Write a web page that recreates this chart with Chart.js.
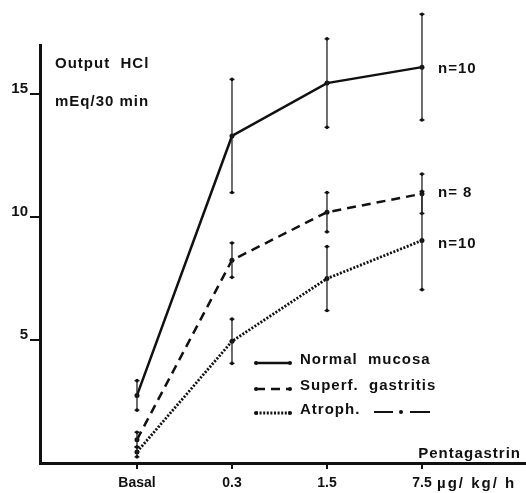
<!DOCTYPE html>
<html>
<head>
<meta charset="utf-8">
<script src="https://cdn.jsdelivr.net/npm/chart.js@4"></script>
<style>
  html, body { margin: 0; padding: 0; background: #fff; }
  canvas { display: block; }
</style>
</head>
<body>
<canvas id="HclChart" width="526" height="493"></canvas>
<script>
(function () {
  "use strict";

  // doses (x categories)
  const doseLabels = ['Basal', '0.3', '1.5', '7.5'];
  const yTickValues = [5, 10, 15];

  // mean output +- error, per group
  const normalMean = [2.75, 13.3, 15.45, 16.1];
  const normalErr  = [0.6, 2.3, 1.8, 2.15];
  const superfMean = [0.95, 8.25, 10.2, 10.95];
  const superfErr  = [0.3, 0.7, 0.8, 0.8];
  const atrophMean = [0.45, 4.95, 7.5, 9.05];
  const atrophErr  = [0.2, 0.9, 1.3, 2.0];

  const groupNames = ['Normal  mucosa', 'Superf.  gastritis', 'Atroph.'];
  const nLabels = ['n=10', 'n= 8', 'n=10'];

  const ink = '#111';
  const fontFam = '"Liberation Sans", Arial, sans-serif';

  function toPoints(arr) {
    return arr.map(function (v, i) { return { x: i, y: v }; });
  }

  function lineSet(label, data, err, dash, width) {
    return {
      label: label,
      data: toPoints(data),
      errors: err,
      borderColor: ink,
      backgroundColor: ink,
      borderWidth: width,
      borderDash: dash,
      tension: 0,
      pointRadius: 2.5,
      pointBackgroundColor: ink,
      pointBorderWidth: 0,
      clip: false
    };
  }

  // error bars, labels and legend drawn on top
  const extras = {
    id: 'extras',
    afterDatasetsDraw(chart) {
      const ctx = chart.ctx;
      const xs = chart.scales.x;
      const ys = chart.scales.y;
      const area = chart.chartArea;
      ctx.save();

      // let the x axis run out to the edge of the picture
      ctx.strokeStyle = ink;
      ctx.lineWidth = 3;
      ctx.beginPath();
      ctx.moveTo(area.right - 1, area.bottom + 0.5);
      ctx.lineTo(chart.width, area.bottom + 0.5);
      ctx.stroke();

      // error bars
      chart.data.datasets.forEach(function (ds) {
        ds.data.forEach(function (p, i) {
          const x = xs.getPixelForValue(p.x);
          const top = ys.getPixelForValue(p.y + ds.errors[i]);
          const bot = ys.getPixelForValue(p.y - ds.errors[i]);
          ctx.strokeStyle = '#222';
          ctx.lineWidth = 1.3;
          ctx.setLineDash([]);
          ctx.beginPath();
          ctx.moveTo(x, top); ctx.lineTo(x, bot);
          ctx.moveTo(x - 2.5, top); ctx.lineTo(x + 2.5, top);
          ctx.moveTo(x - 2.5, bot); ctx.lineTo(x + 2.5, bot);
          ctx.stroke();
          ctx.fillStyle = ink;
          [top, bot].forEach(function (yy) {
            ctx.beginPath(); ctx.arc(x, yy, 1.8, 0, Math.PI * 2); ctx.fill();
          });
        });
      });

      ctx.fillStyle = ink;
      ctx.strokeStyle = ink;
      ctx.font = 'bold 15px ' + fontFam;
      ctx.textBaseline = 'middle';
      ctx.textAlign = 'left';
      ctx.letterSpacing = '1px';

      ctx.fillText('Output  HCl', 55, 64);
      ctx.fillText('mEq/30 min', 55, 102);

      // n labels beside the last points
      [69, 193, 244].forEach(function (yy, k) {
        ctx.fillText(nLabels[k], 438, yy);
      });

      ctx.textAlign = 'right';
      ctx.fillText('Pentagastrin', 521, 454);
      ctx.textAlign = 'left';
      ctx.letterSpacing = '2px';
      ctx.fillText('\u00b5g/ kg/ h', 437, 484);
      ctx.letterSpacing = '1px';

      // legend
      const rowY = [360, 386, 410];
      chart.data.datasets.forEach(function (ds, k) {
        const y = rowY[k] + 3;
        ctx.lineWidth = ds.borderWidth;
        ctx.setLineDash(ds.borderDash || []);
        ctx.beginPath();
        ctx.moveTo(256, y); ctx.lineTo(290, y);
        ctx.stroke();
        ctx.setLineDash([]);
        [256, 290].forEach(function (xx) {
          ctx.beginPath(); ctx.arc(xx, y, 2, 0, Math.PI * 2); ctx.fill();
        });
        ctx.fillText(groupNames[k], 300, rowY[k]);
      });
      // dash-dot sign after "Atroph."
      ctx.lineWidth = 2;
      ctx.beginPath();
      ctx.moveTo(374, 412); ctx.lineTo(393, 412);
      ctx.moveTo(410, 412); ctx.lineTo(430, 412);
      ctx.stroke();
      ctx.beginPath(); ctx.arc(401, 412, 2, 0, Math.PI * 2); ctx.fill();

      ctx.restore();
    }
  };

  const ctx = document.getElementById('HclChart').getContext('2d');
  new Chart(ctx, {
    type: 'line',
    data: {
      datasets: [
        lineSet(groupNames[0], normalMean, normalErr, [], 2.5),
        lineSet(groupNames[1], superfMean, superfErr, [9, 6], 2.5),
        lineSet(groupNames[2], atrophMean, atrophErr, [2, 1.6], 2.8)
      ]
    },
    options: {
      responsive: false,
      animation: false,
      devicePixelRatio: 1,
      layout: { padding: { top: 45, left: 0, right: 0, bottom: 0 } },
      scales: {
        x: {
          type: 'linear',
          min: -1.021,
          max: 4.053,
          afterFit: function (scale) { scale.height = 30; },
          afterBuildTicks: function (scale) {
            scale.ticks = doseLabels.map(function (l, i) { return { value: i }; });
          },
          ticks: {
            color: ink,
            font: { family: fontFam, size: 14, weight: 'bold' },
            padding: 6,
            maxRotation: 0,
            callback: function (v) { return doseLabels[v]; }
          },
          grid: {
            drawOnChartArea: false,
            color: ink,
            lineWidth: 2,
            tickLength: 6
          },
          border: { color: ink, width: 3 }
        },
        y: {
          min: 0,
          max: 17,
          afterFit: function (scale) { scale.width = 40; },
          afterBuildTicks: function (scale) {
            scale.ticks = yTickValues.map(function (v) { return { value: v }; });
          },
          ticks: {
            color: ink,
            font: { family: fontFam, size: 15, weight: 'bold' },
            padding: 2,
            labelOffset: -5
          },
          grid: {
            drawOnChartArea: false,
            color: ink,
            lineWidth: 2,
            tickLength: 10
          },
          border: { color: ink, width: 3 }
        }
      },
      plugins: {
        legend: { display: false },
        tooltip: { enabled: false }
      }
    },
    plugins: [extras]
  });
})();
</script>
</body>
</html>
